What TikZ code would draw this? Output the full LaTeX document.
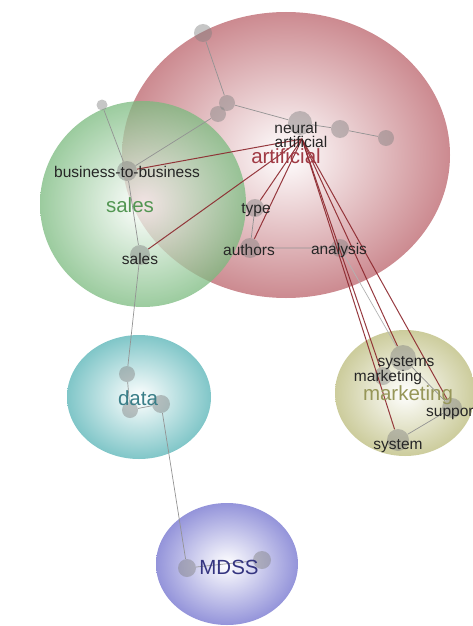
\documentclass[tikz,border=0pt]{standalone}
\usepackage{fontspec}
\setmainfont{Liberation Sans}
\usetikzlibrary{positioning}

\definecolor{artred}{RGB}{204,138,144}
\definecolor{salgreen}{RGB}{122,186,126}
\definecolor{datcyan}{RGB}{128,198,200}
\definecolor{mktolive}{RGB}{204,204,156}
\definecolor{mdssblue}{RGB}{148,148,218}
\definecolor{linkred}{RGB}{140,38,44}
\definecolor{artlbl}{RGB}{160,58,68}
\definecolor{sallbl}{RGB}{82,150,82}
\definecolor{mktlbl}{RGB}{150,150,88}
\definecolor{datlbl}{RGB}{58,126,136}
\definecolor{mdsslbl}{RGB}{52,52,128}

\begin{document}
\begin{tikzpicture}[x=1pt,y=-1pt,
  kdot/.style={circle, fill=gray, fill opacity=0.45, inner sep=0pt, minimum size=#1},
  kdot/.default=16pt,
  glink/.style={draw=gray!85, line width=0.7pt},
  rlink/.style={draw=linkred, line width=1pt, draw opacity=0.9},
  lbl/.style={font=\fontsize{15.5}{16}\selectfont, text=black!85, inner sep=0pt},
  clbl/.style={font=\fontsize{20.5}{21}\selectfont, inner sep=0pt, text=#1}]
\useasboundingbox (0,0) rectangle (472,626);
% Clusters
\shade[inner color=white, outer color=artred] (286,155) ellipse (164 and 143);
\shade[inner color=white, outer color=salgreen, opacity=0.75] (143,204) ellipse (103 and 103);
\shade[inner color=white, outer color=datcyan] (139,397) ellipse (72 and 62);
\shade[inner color=white, outer color=mktolive] (405,393) ellipse (70 and 63);
\shade[inner color=white, outer color=mdssblue] (227,564) ellipse (71 and 61);
% Terms
\node[kdot=18pt] (t1) at (203,33) {};
\node[kdot] (t2) at (227,103) {};
\node[kdot] (t3) at (218,114) {};
\node[kdot=11pt] (g1) at (102,105) {};
\node[kdot=24pt] (neu) at (300,123) {};
\node[kdot=18pt] (n2) at (340,129) {};
\node[kdot] (n3) at (386,138) {};
\node[kdot=20pt] (btb) at (127,171) {};
\node[kdot=18pt] (typ) at (255,208) {};
\node[kdot=20pt] (aut) at (250,248) {};
\node[kdot=18pt] (ana) at (340,248) {};
\node[kdot=20pt] (sal) at (140,255) {};
\node[kdot] (d1) at (127,374) {};
\node[kdot] (d2) at (130,410) {};
\node[kdot=18pt] (d3) at (161,404) {};
\node[kdot=18pt] (m1) at (187,568) {};
\node[kdot=18pt] (m2) at (262,560) {};
\node[kdot=26pt] (sys) at (403,358) {};
\node[kdot=18pt] (mkt) at (383,376) {};
\node[kdot=20pt] (sup) at (452,408) {};
\node[kdot=22pt] (syst) at (398,440) {};
\coordinate (hub) at (302,139);
% Co-occurrence links
\draw[glink] (t1) -- (t2) -- (neu);
\draw[glink] (t2) -- (t3) -- (btb);
\draw[glink] (g1) -- (btb) -- (sal) -- (d1) -- (d2) -- (d3) -- (m1) -- (m2);
\draw[glink] (neu) -- (n2) -- (n3);
\draw[glink] (typ) -- (aut) -- (ana);
\draw[glink, draw=gray!60] (ana) -- (sys);
\draw[glink] (sys) -- (sup) -- (syst);
% Links of artificial
\foreach \t in {btb,sal,typ,aut,mkt,sys,sup,syst}
  \draw[rlink] (hub) -- (\t);
% Labels
\node[lbl] (lneu) at (296,128) {neural};
\node[lbl] (lart) at (301,142) {artificial};
\node[clbl=artlbl] (cart) at (286,156) {artificial};
\node[lbl] (lbtb) at (127,172) {business-to-business};
\node[clbl=sallbl] (csal) at (130,205) {sales};
\node[lbl] (ltyp) at (256,210) {type};
\node[lbl] (laut) at (249,250) {authors};
\node[lbl] (lana) at (339,250) {analysis};
\node[lbl] (lsal) at (140,259) {sales};
\node[lbl] (lsys) at (406,363) {systems};
\node[lbl] (lmkt) at (388,377) {marketing};
\node[clbl=mktlbl] (cmkt) at (408,395) {marketing};
\node[lbl, anchor=west] (lsup) at (426,413) {support};
\node[lbl] (lsyst) at (398,446) {system};
\node[clbl=datlbl] (cdat) at (138,398) {data};
\node[clbl=mdsslbl] (cmdss) at (229,567) {MDSS};
\end{tikzpicture}
\end{document}
